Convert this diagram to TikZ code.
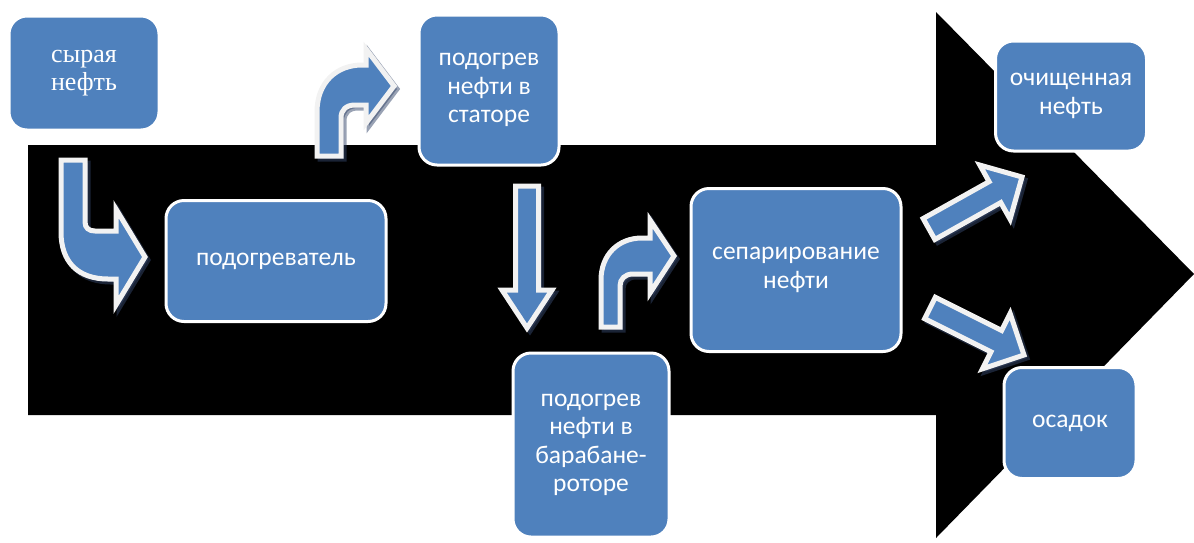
\documentclass[tikz,border=0pt]{standalone}
\usepackage{fontspec}
\setmainfont{Carlito}
\newfontfamily\serifru{Liberation Serif}
\usetikzlibrary{calc}
\definecolor{boxblue}{HTML}{4F81BD}
\definecolor{arrline}{HTML}{F2F2F2}
\definecolor{shad}{HTML}{34466A}
\tikzset{
  box/.style={rectangle, rounded corners=18pt, fill=boxblue, draw=white, line width=3pt,
    text=white, align=center, inner sep=0pt, font=\fontsize{25.5}{28.5}\selectfont},
  arrbody/.style={fill=boxblue, draw=arrline, line width=5pt, line join=miter},
  arrshadow/.style={fill=shad, draw=shad, line width=5pt, opacity=0.5,
    transform canvas={shift={(3pt,-3pt)}}},
}
\newcommand\straightblock[5]{%
  \coordinate (hb) at ($(#2)!#5!(#1)$);
  \foreach \st in {arrshadow,arrbody}{
    \path[\st] ($(#1)!#3!90:(#2)$) -- ($(hb)!#3!90:(#2)$) -- ($(hb)!#4!90:(#2)$)
      -- (#2) -- ($(hb)!#4!-90:(#2)$) -- ($(hb)!#3!-90:(#2)$) -- ($(#1)!#3!-90:(#2)$) -- cycle;
  }%
}
\newcommand\bentA{(61,160) -- (85,160) -- (85,222) .. controls (85,228) and (89,231) .. (95,231)
  -- (116,231) -- (116,209) -- (145,257) -- (116,305) -- (116,279) -- (108,279)
  .. controls (78,279) and (61,262) .. (61,232) -- cycle}
\newcommand\bentB{(317,156) -- (317,112) .. controls (317,82) and (337,65) .. (362,65)
  -- (366,65) -- (366,49) -- (394,86) -- (366,123) -- (366,105) -- (355,105)
  .. controls (346,105) and (341,110) .. (341,118) -- (341,156) -- cycle}
\newcommand\bentD{(601,327) -- (601,280) .. controls (601,255) and (618,238) .. (642,238)
  -- (650,238) -- (650,220) -- (674,256) -- (650,293) -- (650,274) -- (633,274)
  .. controls (625,274) and (620,279) .. (620,286) -- (620,327) -- cycle}
\begin{document}
\begin{tikzpicture}[x=1pt,y=-1pt]
\useasboundingbox (0,0) rectangle (1194,542);
% big background arrow
\fill[black] (28,145) -- (936,145) -- (936,12) -- (1194,274) -- (936,538)
  -- (936,415) -- (28,415) -- cycle;
% boxes
\node[box, minimum width=150pt, minimum height=114pt, font=\serifru\fontsize{26}{28}\selectfont]
  (raw) at (84,73) {сырая\\нефть};
\node[box, minimum width=220pt, minimum height=121pt] (heater) at (276,261) {подогреватель};
\node[box, minimum width=140pt, minimum height=150pt] (stator) at (489,90)
  {подогрев\\нефти в\\статоре};
\node[box, minimum width=156pt, minimum height=184pt] (rotor) at (591,445)
  {подогрев\\нефти в\\барабане-\\роторе};
\node[box, minimum width=210pt, minimum height=163pt] (sep) at (796,270)
  {сепарирование\\нефти};
\node[box, minimum width=151pt, minimum height=110pt] (clean) at (1071,96)
  {очищенная\\нефть};
\node[box, minimum width=132pt, minimum height=111pt] (sed) at (1070,423) {осадок};
% bent block arrows
\foreach \st in {arrshadow,arrbody}{
  \path[\st] \bentA;
  \path[\st] \bentB;
  \path[\st] \bentD;
}
% straight block arrows
\coordinate (cT) at (527,186); \coordinate (cP) at (527,328);
\straightblock{cT}{cP}{11.5pt}{25pt}{38pt}
\coordinate (eT) at (929,229); \coordinate (eP) at (1022,177);
\straightblock{eT}{eP}{12pt}{31pt}{31pt}
\coordinate (fT) at (930,308); \coordinate (fP) at (1024,355);
\straightblock{fT}{fP}{12pt}{31pt}{31pt}
\end{tikzpicture}
\end{document}
